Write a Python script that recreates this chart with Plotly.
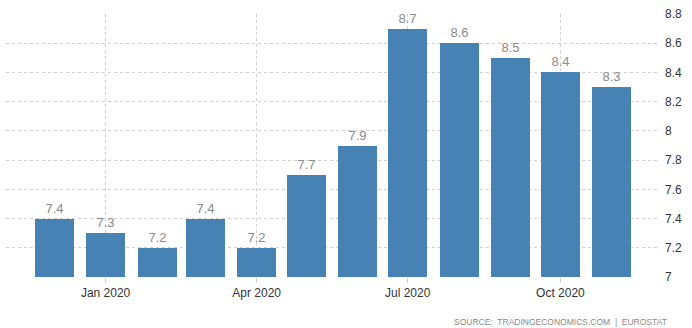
import plotly.graph_objects as go

months = ["2019-12-01", "2020-01-01", "2020-02-01", "2020-03-01", "2020-04-01", "2020-05-01",
          "2020-06-01", "2020-07-01", "2020-08-01", "2020-09-01", "2020-10-01", "2020-11-01"]
values = [7.4, 7.3, 7.2, 7.4, 7.2, 7.7, 7.9, 8.7, 8.6, 8.5, 8.4, 8.3]
tick_dates = ["2020-01-01", "2020-04-01", "2020-07-01", "2020-10-01"]
tick_labels = ["Jan 2020", "Apr 2020", "Jul 2020", "Oct 2020"]
y_ticks = [7, 7.2, 7.4, 7.6, 7.8, 8, 8.2, 8.4, 8.6, 8.8]
y_labels = ["7", "7.2", "7.4", "7.6", "7.8", "8", "8.2", "8.4", "8.6", "8.8"]

fig = go.Figure()
fig.add_trace(go.Bar(
    x=months, y=[v - 7 for v in values], base=7,
    marker=dict(color="#4682b4", line=dict(width=0)),
    width=23.5 * 86400000,
    text=[f"{v:g}" for v in values], textposition="outside",
    textfont=dict(color="#8a8a8a", size=13, family="Liberation Sans, Arial"),
    cliponaxis=False,
    hoverinfo="skip",
))

fig.update_layout(
    width=692, height=328,
    margin=dict(l=6, r=32, t=14, b=51),
    paper_bgcolor="white", plot_bgcolor="white",
    showlegend=False,
    bargap=0,
    xaxis=dict(
        type="date", range=["2019-11-02", "2020-11-30"],
        tickvals=tick_dates, ticktext=tick_labels,
        showgrid=True, gridcolor="#d0d0d0", griddash="dot", gridwidth=1,
        ticks="outside", ticklen=5, tickcolor="#d0d0d0",
        tickfont=dict(color="#333333", size=12, family="Liberation Sans, Arial"),
        showline=False, zeroline=False,
    ),
    yaxis=dict(
        side="right", range=[7, 8.8],
        tickvals=y_ticks, ticktext=y_labels,
        showgrid=True, gridcolor="#d0d0d0", griddash="dot", gridwidth=1,
        ticks="", ticklabelstandoff=4,
        tickfont=dict(color="#333333", size=12, family="Liberation Sans, Arial"),
        showline=False, zeroline=False,
    ),
    annotations=[dict(
        text="SOURCE:  TRADINGECONOMICS.COM  |  EUROSTAT",
        xref="paper", yref="paper", x=1.014, y=-0.145, xanchor="right", yanchor="top",
        showarrow=False, font=dict(color="#8a8a8a", size=8.5, family="Liberation Sans, Arial"),
    )],
)

fig.write_html("out.html")
